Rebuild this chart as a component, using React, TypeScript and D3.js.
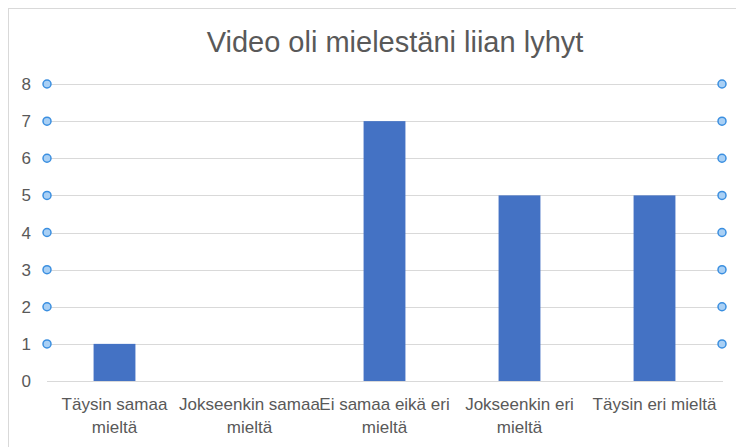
import React from "react";
import * as d3 from "d3";

const categories: string[][] = [
  ["Täysin samaa", "mieltä"],
  ["Jokseenkin samaa", "mieltä"],
  ["Ei samaa eikä eri", "mieltä"],
  ["Jokseenkin eri", "mieltä"],
  ["Täysin eri mieltä"],
];
const values: number[] = [1, 0, 7, 5, 5];
const yTicks: number[] = [0, 1, 2, 3, 4, 5, 6, 7, 8];
const title = "Video oli mielestäni liian lyhyt";

const W = 736;
const H = 447;
const FONT = "'Liberation Sans', Arial, Helvetica, sans-serif";
const TXT = "#595959";

export default function App() {
  const x = d3
    .scaleBand<number>()
    .domain(values.map((_, i) => i))
    .range([47, 722])
    .paddingInner(0.69)
    .paddingOuter(0.345);
  const band = d3.scaleBand<number>().domain(values.map((_, i) => i)).range([47, 722]);
  const y = d3.scaleLinear().domain([0, 8]).range([381, 84]);

  return (
    <div style={{ position: "fixed", left: 0, top: 0 }}>
      <svg width={W} height={H} style={{ display: "block", background: "#fff" }}>
        <rect x={8.5} y={8.5} width={W + 10} height={H + 10} fill="#fff" stroke="#d9d9d9" strokeWidth={1} />
        <text x={395} y={52} textAnchor="middle" fontFamily={FONT} fontSize={29} fill={TXT}>
          {title}
        </text>
        {yTicks.map((t) => (
          <g key={t}>
            <line x1={47} x2={t === 0 ? 723 : 722} y1={Math.round(y(t)) + 0.5} y2={Math.round(y(t)) + 0.5} stroke="#d9d9d9" strokeWidth={1.2} />
            <text x={31} y={y(t) + 6} textAnchor="end" fontFamily={FONT} fontSize={17} fill={TXT}>
              {t}
            </text>
          </g>
        ))}
        {values.map((v, i) => (
          <rect key={i} x={x(i)} y={y(v)} width={x.bandwidth()} height={y(0) - y(v)} fill="#4472c4" />
        ))}
        {yTicks
          .filter((t) => t > 0)
          .map((t) => (
            <g key={"d" + t}>
              <circle cx={47} cy={y(t)} r={4} fill="#a9d0f5" stroke="#3b8fe0" strokeWidth={1.5} />
              <circle cx={722} cy={y(t)} r={4} fill="#a9d0f5" stroke="#3b8fe0" strokeWidth={1.5} />
            </g>
          ))}
        {categories.map((lines, i) => (
          <text
            key={i}
            textAnchor="middle"
            fontFamily={FONT}
            fontSize={17}
            fill={TXT}
          >
            {lines.map((l, j) => (
              <tspan key={j} x={(band(i) as number) + band.bandwidth() / 2} y={410 + j * 23}>
                {l}
              </tspan>
            ))}
          </text>
        ))}
      </svg>
    </div>
  );
}
